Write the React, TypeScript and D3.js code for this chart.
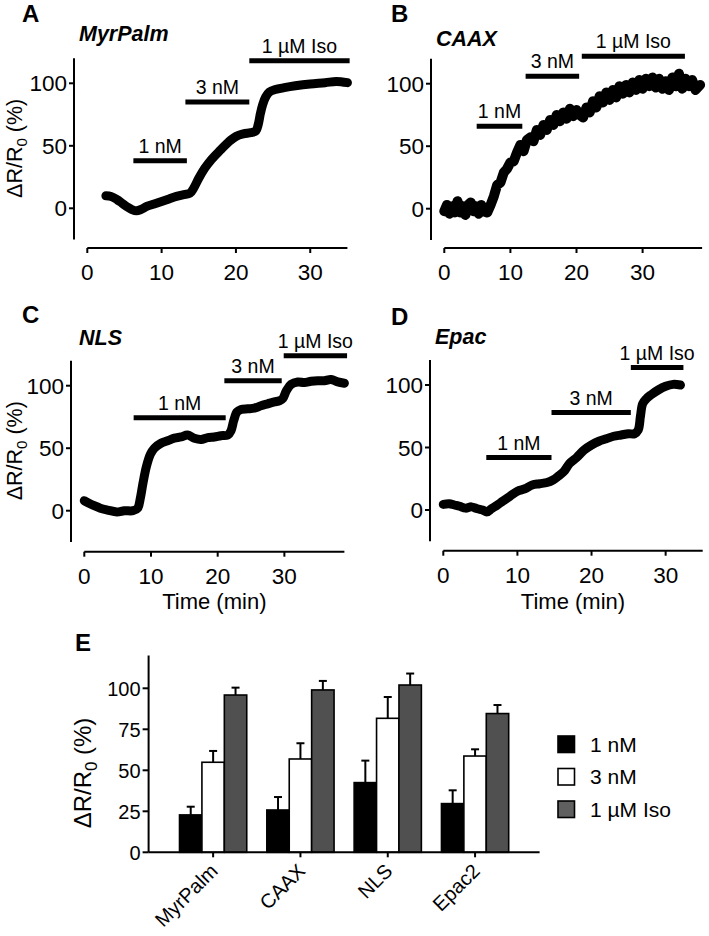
import React from 'react';
import * as d3 from 'd3';

// time courses of panels A-D: [time (min), ΔR/R0 (%)]
const traceMyrPalm: [number, number][] = [
  [2.5, 10], [3.2, 9.5], [4, 7], [4.7, 4], [5.4, 1], [6, -1], [6.6, -2], [7.2, -1], [8, 1.5], [9, 3.5],
  [10, 5.5], [11, 7.5], [12, 9.5], [13, 11], [13.8, 12], [14.3, 16], [15, 24], [15.8, 32], [16.7, 39],
  [17.9, 46.5], [19, 53], [20, 57.5], [21, 59.5], [22, 60.5], [22.7, 62], [23, 67], [23.3, 76], [23.6, 83],
  [24, 89], [24.5, 93], [25.3, 95], [26.5, 96.5], [28, 98], [30, 99.5], [32, 100.5], [33.5, 101.5], [35, 100.5],
];

const traceCAAX: [number, number][] = [
  [0, -2], [0.4, 3], [0.8, -4], [1.2, 2], [1.6, -3], [2, 6], [2.4, -3], [2.8, 2], [3.2, -5], [3.6, 3],
  [4, 5], [4.4, -2], [4.8, 2], [5.2, -4], [5.6, 3], [6, -2], [6.5, -3], [7, 3], [7.5, 10], [8, 19],
  [8.5, 21], [9, 29], [9.5, 32], [10, 37], [10.5, 38], [11, 45], [11.5, 51], [12, 46], [12.5, 55], [13, 57],
  [13.5, 54], [14, 63], [14.5, 59], [15, 67], [15.5, 63], [16, 71], [16.5, 67], [17, 75], [17.5, 70],
  [18, 77], [18.5, 72], [19, 80], [19.5, 74], [20, 79], [20.5, 75], [21, 73], [21.5, 81], [22, 77],
  [22.5, 86], [23, 81], [23.5, 90], [24, 85], [24.5, 93], [25, 87], [25.5, 95], [26, 89], [26.5, 98],
  [27, 92], [27.5, 99], [28, 93], [28.5, 101], [29, 95], [29.5, 103], [30, 96], [30.5, 104], [31, 98],
  [31.5, 105], [32, 97], [32.5, 104], [33, 96], [33.5, 102], [34, 95], [34.5, 105], [35, 98], [35.5, 108],
  [36, 96], [36.5, 104], [37, 98], [37.5, 103], [38, 95], [38.7, 99],
];

const traceNLS: [number, number][] = [
  [0, 8], [0.7, 6], [1.5, 4], [2.4, 2], [3.5, 0.5], [4.9, -1], [6, 0], [7.3, 0], [8, 2], [8.4, 10],
  [8.8, 22], [9.3, 35], [9.9, 45], [10.5, 50], [11.5, 54], [12.5, 56], [13.5, 58], [14.5, 59], [15.5, 60.5],
  [16.5, 58], [17.5, 57], [18.5, 58.5], [19.5, 59], [20.5, 60], [21.5, 60.5], [22, 64], [22.4, 72],
  [22.9, 79], [23.5, 81], [24.5, 81.5], [25.5, 82], [26.5, 84], [27.5, 85.5], [28.5, 87], [29.3, 88],
  [29.8, 90], [30.3, 96], [31, 101], [32, 103], [33, 102.5], [34, 103.5], [35, 104], [36, 104], [37, 105],
  [38, 103], [39, 102],
];

const traceEpac: [number, number][] = [
  [0, 4.5], [0.8, 5], [1.5, 4], [2.2, 3], [3, 1.5], [3.8, 2.5], [4.6, 1], [5.3, 0], [5.9, -1.5], [6.5, 1],
  [7.3, 4], [8, 7], [9, 11], [10, 15], [11, 17], [12, 20], [13, 21], [14, 22], [14.8, 24], [15.5, 27],
  [16.3, 31], [17, 37], [18, 42], [19, 48], [20, 52], [21, 55], [22, 57], [23, 59], [24, 60], [25, 61],
  [25.8, 61], [26.3, 64], [26.6, 75], [26.9, 85], [27.4, 89], [28, 92], [29, 96], [30, 99], [31, 100.5],
  [32, 100],
];

// drug application bars: [start (min), end (min), height (%)]
const drugLabels = ['1 nM', '3 nM', '1 µM Iso'];
const drugsMyrPalm = [[6.2, 13.4, 38], [13.2, 21.8, 85], [21.8, 35.3, 118]];
const drugsCAAX = [[4.9, 11.8, 66], [12.3, 20.4, 106], [20.8, 36.4, 122]];
const drugsNLS = [[7.4, 21.2, 74.4], [21.0, 29.6, 104], [29.9, 39.4, 124]];
const drugsEpac = [[5.8, 14.6, 42], [14.6, 25.3, 78], [25.3, 32.4, 114]];

const timeTicks = [0, 10, 20, 30];
const pctTicks = [0, 50, 100];

// panel E summary
const constructs = ['MyrPalm', 'CAAX', 'NLS', 'Epac2'];
const conditions = ['1 nM', '3 nM', '1 µM Iso'];
const mean1nM = [22.8, 25.8, 42.5, 29.7];
const mean3nM = [54.9, 56.9, 81.7, 58.7];
const meanIso = [95.9, 99, 102, 84.6];
const sem1nM = [5, 7.9, 13.4, 8.1];
const sem3nM = [6.9, 9.6, 13, 4.1];
const semIso = [4.5, 5.5, 7, 5.2];
const barTicks = [0, 25, 50, 75, 100];

const FONT = '"Liberation Sans", Arial, Helvetica, sans-serif';

function YLabel({ x, y, size }: { x: number; y: number; size: number }) {
  return (
    <text transform={`translate(${x},${y}) rotate(-90)`} textAnchor="middle" fontSize={size}>
      ΔR/R<tspan dy={size * 0.25} fontSize={size * 0.7}>0</tspan>
      <tspan dy={-size * 0.25}> (%)</tspan>
    </text>
  );
}

function TracePanel(p: any) {
  const x = d3.scaleLinear().domain([0, p.tMax]).range(p.xr);
  const y = d3.scaleLinear().domain([0, 100]).range([p.y0, p.y0 - 125]);
  const line = d3.line<[number, number]>()
    .x(d => x(d[0]))
    .y(d => y(d[1]))
    .curve(p.noisy ? d3.curveLinear : d3.curveCatmullRom);

  return (
    <g>
      <text x={p.lx} y={p.ly} fontSize={24} fontWeight="bold">{p.letter}</text>
      <text x={p.tx} y={p.ty} fontSize={21.5} fontWeight="bold" fontStyle="italic">{p.title}</text>

      {/* y axis */}
      <line x1={p.yAxisX} x2={p.yAxisX} y1={y(-25)} y2={y(120)} stroke="#000" strokeWidth={2} />
      {pctTicks.map(t => (
        <g key={t}>
          <line x1={p.yAxisX - 5} x2={p.yAxisX} y1={y(t)} y2={y(t)} stroke="#000" strokeWidth={2} />
          <text x={p.yAxisX - 7} y={y(t)} dy="0.36em" textAnchor="end" fontSize={22.5}>{t}</text>
        </g>
      ))}

      {/* x axis */}
      <line x1={x(0)} x2={x(p.tMax)} y1={p.xAxisY} y2={p.xAxisY} stroke="#000" strokeWidth={2} />
      {timeTicks.map(t => (
        <g key={t}>
          <line x1={x(t)} x2={x(t)} y1={p.xAxisY} y2={p.xAxisY + 5} stroke="#000" strokeWidth={2} />
          <text x={x(t)} y={p.xAxisY + 32} textAnchor="middle" fontSize={22.5}>{t}</text>
        </g>
      ))}

      {p.ylabel && <YLabel x={22} y={y(48)} size={21.5} />}
      {p.time && (
        <text x={(x(0) + x(p.tMax)) / 2} y={609} textAnchor="middle" fontSize={22}>Time (min)</text>
      )}

      {p.drugs.map((d: number[], i: number) => (
        <g key={i}>
          <line x1={x(d[0])} x2={x(d[1])} y1={y(d[2])} y2={y(d[2])} stroke="#000" strokeWidth={5} />
          <text x={(x(d[0]) + x(d[1])) / 2} y={y(d[2]) - 8} textAnchor="middle" fontSize={19.5}>
            {drugLabels[i]}
          </text>
        </g>
      ))}

      <path d={line(p.trace) || ''} fill="none" stroke="#000" strokeWidth={p.noisy ? 10 : 9}
        strokeLinecap="round" strokeLinejoin="round" />
    </g>
  );
}

function BarPanel() {
  const y = d3.scaleLinear().domain([0, 100]).range([852.3, 688.3]);
  const x0 = d3.scaleBand().domain(constructs).range([148.6, 539.6]).paddingInner(0.23).paddingOuter(0.354);
  const x1 = d3.scaleBand().domain(conditions).range([0, x0.bandwidth()]);
  const means = [mean1nM, mean3nM, meanIso];
  const sems = [sem1nM, sem3nM, semIso];
  const fills = ['#000', '#fff', '#505050'];
  const legendFills = ['#000', '#fff', '#606060'];
  const axisX = 148.6;
  const axisY = y(0);

  return (
    <g>
      <text x={75} y={651} fontSize={24} fontWeight="bold">E</text>
      <YLabel x={91} y={773} size={24} />

      {constructs.map((c, ci) => (
        <g key={c}>
          {conditions.map((k, ki) => {
            const bx = (x0(c) || 0) + (x1(k) || 0);
            const w = x1.bandwidth();
            const m = means[ki][ci];
            const top = y(m + sems[ki][ci]);
            return (
              <g key={k}>
                <line x1={bx + w / 2} x2={bx + w / 2} y1={y(m)} y2={top} stroke="#000" strokeWidth={2} />
                <line x1={bx + w / 2 - 4} x2={bx + w / 2 + 4} y1={top} y2={top} stroke="#000" strokeWidth={2} />
                <rect x={bx} y={y(m)} width={w} height={axisY - y(m)} fill={fills[ki]} stroke="#000" strokeWidth={1.6} />
              </g>
            );
          })}
        </g>
      ))}

      <line x1={axisX} x2={axisX} y1={y(120)} y2={axisY} stroke="#000" strokeWidth={2} />
      {barTicks.map(t => (
        <g key={t}>
          <line x1={axisX - 6} x2={axisX} y1={y(t)} y2={y(t)} stroke="#000" strokeWidth={2} />
          <text x={axisX - 8} y={y(t)} dy="0.36em" textAnchor="end" fontSize={20}>{t}</text>
        </g>
      ))}
      <line x1={axisX} x2={539.6} y1={axisY} y2={axisY} stroke="#000" strokeWidth={2} />
      {constructs.map(c => {
        const cx = (x0(c) || 0) + x0.bandwidth() / 2;
        return (
          <g key={c}>
            <line x1={cx} x2={cx} y1={axisY} y2={axisY + 5} stroke="#000" strokeWidth={2} />
            <text transform={`translate(${cx + 6},${axisY + 20}) rotate(-45)`} textAnchor="end" fontSize={20}>{c}</text>
          </g>
        );
      })}

      {conditions.map((k, i) => (
        <g key={k} transform={`translate(558,${744 + i * 32.5})`}>
          <rect x={0} y={-8} width={16.5} height={16.5} fill={legendFills[i]} stroke="#000" strokeWidth={1.6} />
          <text x={32} y={0} dy="0.36em" fontSize={21}>{k}</text>
        </g>
      ))}
    </g>
  );
}

export default function App() {
  const panels = [
    { letter: 'A', lx: 22, ly: 22, title: 'MyrPalm', tx: 79, ty: 41, trace: traceMyrPalm, drugs: drugsMyrPalm,
      tMax: 35, xr: [87.3, 347.4], y0: 208.3, yAxisX: 74, xAxisY: 248, ylabel: true, time: false },
    { letter: 'B', lx: 391, ly: 22, title: 'CAAX', tx: 436, ty: 46, trace: traceCAAX, drugs: drugsCAAX, noisy: true,
      tMax: 39, xr: [444.3, 702.1], y0: 208.7, yAxisX: 431, xAxisY: 248, ylabel: false, time: false },
    { letter: 'C', lx: 22, ly: 323, title: 'NLS', tx: 79, ty: 345, trace: traceNLS, drugs: drugsNLS,
      tMax: 39, xr: [84.3, 344.4], y0: 510.7, yAxisX: 71, xAxisY: 551.7, ylabel: true, time: true },
    { letter: 'D', lx: 391, ly: 325, title: 'Epac', tx: 435, ty: 344, trace: traceEpac, drugs: drugsEpac,
      tMax: 35, xr: [443.3, 702.7], y0: 510, yAxisX: 430, xAxisY: 550.7, ylabel: false, time: true },
  ];

  return (
    <svg width={709} height={936} style={{ position: 'absolute', left: 0, top: 0, background: '#fff' }}
      fontFamily={FONT} fill="#000">
      {panels.map(p => <TracePanel key={p.letter} {...p} />)}
      <BarPanel />
    </svg>
  );
}
